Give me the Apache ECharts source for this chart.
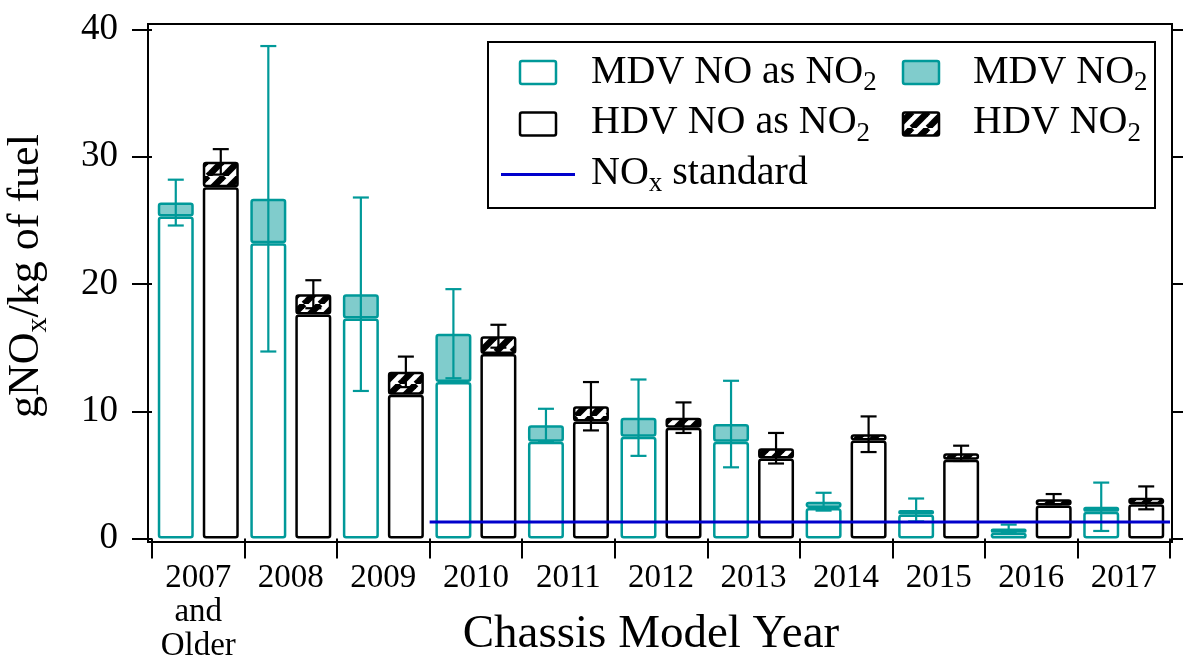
<!DOCTYPE html>
<html><head><meta charset="utf-8">
<script src="https://cdn.jsdelivr.net/npm/echarts@6/dist/echarts.min.js"></script>
<style>html,body{margin:0;padding:0;background:#fff}#c{width:1183px;height:656px}</style>
</head><body><div id="c"></div><script>
const categories = ['2007\nand\nOlder','2008','2009','2010','2011','2012','2013','2014','2015','2016','2017'];
const mdvNO  = [25.3, 23.2, 17.3, 12.3, 7.6, 8.0, 7.6, 2.4, 1.9, 0.45, 2.1];
const mdvNO2 = [1.1, 3.5, 1.9, 3.8, 1.3, 1.5, 1.4, 0.5, 0.35, 0.35, 0.4];
const hdvNO  = [27.6, 17.6, 11.3, 14.5, 9.2, 8.7, 6.3, 7.7, 6.2, 2.6, 2.7];
const hdvNO2 = [2.0, 1.6, 1.8, 1.4, 1.2, 0.8, 0.8, 0.5, 0.5, 0.5, 0.5];
const mdvErr = [1.8, 12.0, 7.6, 3.5, 1.3, 3.0, 3.4, 0.7, 0.9, 0.3, 1.9];
const hdvErr = [1.0, 1.1, 1.2, 0.9, 1.9, 1.2, 1.2, 1.4, 0.6, 0.4, 0.9];
const noxStandard = 1.3;
const standardFromIndex = 3; // starts at the 2010 category
const yMin = 0, yMax = 40, yStep = 10;

const FONT = 'Liberation Serif';
const TEAL = '#009999';
const TEAL_FILL = '#80cccc';
const BLUE = '#0000cc';
const BAR_W = 36, BAR_GAP = 9;

function hatchCanvas() {
  const s = 16;
  const cv = document.createElement('canvas');
  cv.width = s; cv.height = s;
  const g = cv.getContext('2d');
  g.fillStyle = '#fff'; g.fillRect(0, 0, s, s);
  g.strokeStyle = '#000'; g.lineWidth = 6.5;
  for (const o of [-s, 0, s]) {
    g.beginPath(); g.moveTo(o, s); g.lineTo(o + s, 0); g.stroke();
  }
  return cv;
}
const HATCH = { image: hatchCanvas(), repeat: 'repeat' };

function errSeries(name, no, no2, err, color, dx) {
  return {
    type: 'custom', name: name, z: 5,
    data: categories.map((c, i) => [i, no[i] + no2[i], err[i]]),
    renderItem: function (params, api) {
      const i = api.value(0), c = api.value(1), e = api.value(2);
      const t = api.coord([i, c + e]), b = api.coord([i, c - e]);
      const x = t[0] + dx, hw = 8;
      const st = { stroke: color, lineWidth: 2.2 };
      return { type: 'group', children: [
        { type: 'line', shape: { x1: x, y1: t[1], x2: x, y2: b[1] }, style: st },
        { type: 'line', shape: { x1: x - hw, y1: t[1], x2: x + hw, y2: t[1] }, style: st },
        { type: 'line', shape: { x1: x - hw, y1: b[1], x2: x + hw, y2: b[1] }, style: st }
      ]};
    }
  };
}

const legRich = {
  a: { fontSize: 40, fontFamily: FONT, color: '#000' },
  s: { fontSize: 27, fontFamily: FONT, color: '#000', padding: [22, 0, 0, 0] }
};
function legText(x, y, txt) {
  return { type: 'text', x: x, y: y, z: 30,
    style: { text: txt, rich: legRich, fill: '#000', font: '40px ' + FONT, verticalAlign: 'middle', align: 'left' } };
}
function legIcon(x, y, fill, stroke) {
  return { type: 'rect', z: 30, shape: { x: x, y: y, width: 36, height: 23, r: 2 },
    style: { fill: fill, stroke: stroke, lineWidth: 2.5 } };
}

const chart = echarts.init(document.getElementById('c'), null, { renderer: 'canvas' });
chart.setOption({
  animation: false,
  backgroundColor: '#fff',
  grid: { left: 152, right: 13, top: 29.5, bottom: 117.4, containLabel: false, outerBoundsMode: 'none' },
  xAxis: [{
    type: 'category', data: categories, offset: 3,
    axisLine: { show: false },
    axisTick: { show: true, length: 20, lineStyle: { color: '#000', width: 2 } },
    axisLabel: { fontSize: 33, fontFamily: FONT, color: '#000', lineHeight: 34, margin: 20, interval: 0 },
    name: 'Chassis Model Year', nameLocation: 'middle', nameGap: 70, nameMoveOverlap: false,
    nameTextStyle: { fontSize: 47, fontFamily: FONT, color: '#000', padding: [0, 20, 0, 0] }
  }, {
    type: 'value', min: 0, max: categories.length, show: false
  }],
  yAxis: [{
    type: 'value', min: yMin, max: yMax, interval: yStep, offset: 4,
    axisLine: { show: false },
    axisTick: { show: true, length: 20, lineStyle: { color: '#000', width: 2 } },
    axisLabel: { fontSize: 37, fontFamily: FONT, color: '#000', margin: 30 },
    splitLine: { show: false },
    name: '{a|gNO}{s|x}{a|/kg of fuel}', nameLocation: 'middle', nameRotate: 90, nameGap: 95, nameMoveOverlap: false,
    nameTextStyle: { padding: [0, 0, 0, 16], rich: {
      a: { fontSize: 44, fontFamily: FONT, color: '#000' },
      s: { fontSize: 30, fontFamily: FONT, color: '#000', padding: [24, 0, 0, 0] }
    } }
  }, {
    type: 'value', position: 'right', min: yMin, max: yMax, interval: yStep, offset: 2,
    axisLine: { show: false },
    axisTick: { show: true, length: 12, lineStyle: { color: '#000', width: 2 } },
    axisLabel: { show: false }, splitLine: { show: false }
  }],
  series: [
    { type: 'bar', name: 'MDV NO as NO2', stack: 'mdv', data: mdvNO, barWidth: BAR_W, barGap: (BAR_GAP / BAR_W * 100) + '%',
      itemStyle: { color: '#fff', borderColor: TEAL, borderWidth: 2.5, borderRadius: 2 } },
    { type: 'bar', name: 'MDV NO2', stack: 'mdv', data: mdvNO2, barWidth: BAR_W,
      itemStyle: { color: TEAL_FILL, borderColor: TEAL, borderWidth: 2.5, borderRadius: 2 } },
    { type: 'bar', name: 'HDV NO as NO2', stack: 'hdv', data: hdvNO, barWidth: BAR_W,
      itemStyle: { color: '#fff', borderColor: '#000', borderWidth: 2.5, borderRadius: 2 } },
    { type: 'bar', name: 'HDV NO2', stack: 'hdv', data: hdvNO2, barWidth: BAR_W,
      itemStyle: { color: HATCH, borderColor: '#000', borderWidth: 2.5, borderRadius: 2 } },
    errSeries('MDV error', mdvNO, mdvNO2, mdvErr, TEAL, -(BAR_W + BAR_GAP) / 2),
    errSeries('HDV error', hdvNO, hdvNO2, hdvErr, '#000', (BAR_W + BAR_GAP) / 2),
    { type: 'line', name: 'NOx standard', xAxisIndex: 1, symbol: 'none', z: 6,
      data: [[standardFromIndex, noxStandard], [categories.length, noxStandard]],
      lineStyle: { color: BLUE, width: 3 } }
  ],
  graphic: [
    { type: 'rect', z: 10, silent: true, shape: { x: 148, y: 24, width: 1024, height: 518 },
      style: { fill: 'none', stroke: '#000', lineWidth: 2 } },
    { type: 'rect', z: 20, shape: { x: 488, y: 42, width: 667, height: 166 },
      style: { fill: '#fff', stroke: '#000', lineWidth: 2 } },
    legIcon(520, 61, '#fff', TEAL),
    legIcon(520, 112.5, '#fff', '#000'),
    { type: 'line', z: 30, shape: { x1: 501, y1: 174.5, x2: 575, y2: 174.5 }, style: { stroke: BLUE, lineWidth: 3 } },
    legIcon(903, 61, TEAL_FILL, TEAL),
    legIcon(903, 112.5, HATCH, '#000'),
    legText(591, 72, '{a|MDV NO as NO}{s|2}'),
    legText(591, 122.5, '{a|HDV NO as NO}{s|2}'),
    legText(591, 173, '{a|NO}{s|x}{a| standard}'),
    legText(973, 72, '{a|MDV NO}{s|2}'),
    legText(973, 122.5, '{a|HDV NO}{s|2}')
  ]
});
</script></body></html>
